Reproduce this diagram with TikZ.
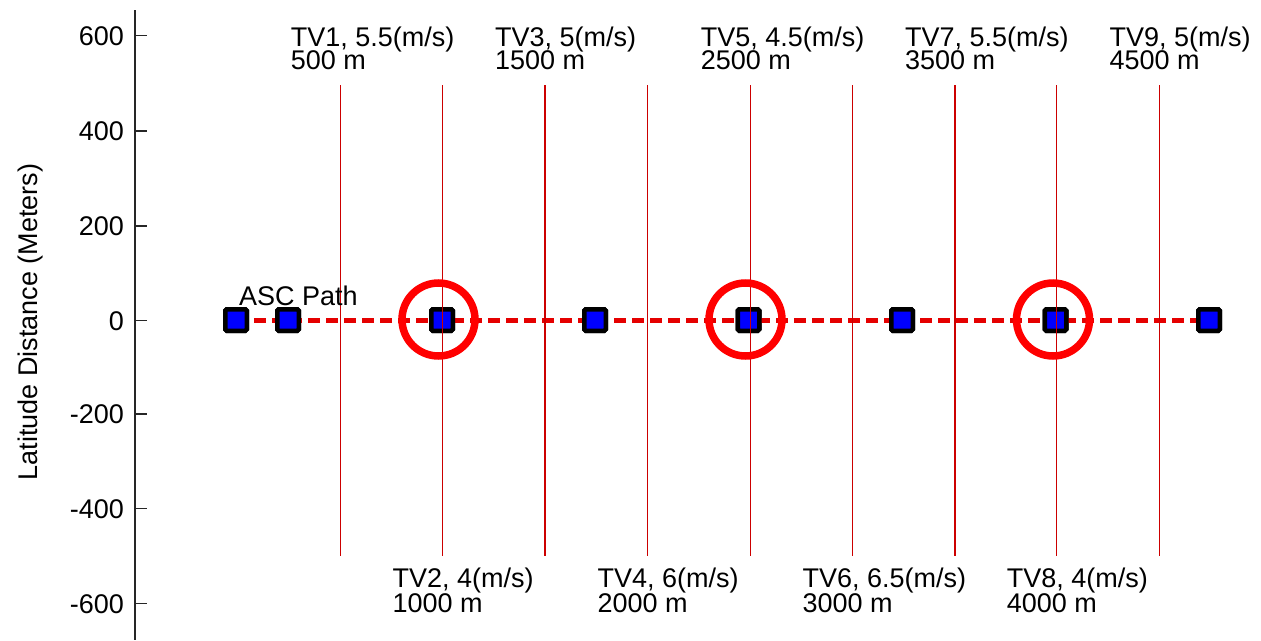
\documentclass[tikz,border=0pt]{standalone}
\usepackage{fontspec}
\setmainfont{Liberation Sans}
\begin{document}
\begin{tikzpicture}[x=1pt,y=-1pt,
  lbl/.style={anchor=base west,inner sep=0pt,font=\fontsize{27}{27}\selectfont},
  ticklbl/.style={anchor=base east,inner sep=0pt,font=\fontsize{27}{27}\selectfont},
  axisline/.style={draw=black!85,line width=1.5pt},
  tvline/.style={draw=red!80!black,line width=1.3pt},
  ascpath/.style={draw=red!90!black,line width=5pt,dash pattern=on 12pt off 6pt},
  sq/.style={draw=black,fill=blue,line width=4.5pt,minimum size=21.5pt,inner sep=0pt,rounded corners=1.5pt},
  ring/.style={circle,draw=red,line width=7.5pt,minimum size=73pt,inner sep=0pt}]
\useasboundingbox (0,0) rectangle (1261,640);
\fill[white] (0,0) rectangle (1261,640);
% axis
\coordinate (axtop) at (135,10);
\coordinate (axbot) at (135,640);
\draw[axisline] (axtop) -- (axbot);
\foreach \v/\y in {600/35.7,400/131,200/226,0/320.5,-200/414,-400/508.5,-600/603.7}{
  \coordinate (tk\v) at (135,\y);
  \draw[axisline] (tk\v) -- ++(12,0);
  \node[ticklbl] (tl\v) at (124,\y+9.5) {\v};
}
\node[rotate=90,anchor=base,inner sep=0pt,font=\fontsize{27}{27}\selectfont] (ylab) at (37,322) {Latitude Distance (Meters)};
% ASC path
\node[sq] (s0) at (236,320) {};
\node[sq] (s1) at (288,320) {};
\node[sq] (s2) at (442,320) {};
\node[sq] (s3) at (595,320) {};
\node[sq] (s4) at (748.5,320) {};
\node[sq] (s5) at (902,320) {};
\node[sq] (s6) at (1055.5,320) {};
\node[sq] (s7) at (1209,320) {};
\draw[ascpath] (s0.center) -- (s7.center);
\foreach \i in {0,...,7}{\node[sq] at (s\i) {};}
% vertical lines
\foreach \i/\x in {1/340.7,2/442.3,3/545,4/647.5,5/750.7,6/852.3,7/955,8/1056.7,9/1159.3}{
  \coordinate (vt\i) at (\x,85);
  \coordinate (vb\i) at (\x,556);
  \draw[tvline] (vt\i) -- (vb\i);
}
% rings
\node[ring] (c1) at (438.5,319.5) {};
\node[ring] (c2) at (745.5,319.5) {};
\node[ring] (c3) at (1053,319.5) {};
% labels
\node[lbl] (asc) at (239,305) {ASC Path};
\node[lbl] (tv1) at (290.7,46.7) {TV1, 5.5(m/s)};
\node[lbl] (tv1d) at (290.7,69.5) {500 m};
\node[lbl] (tv3) at (495,46.7) {TV3, 5(m/s)};
\node[lbl] (tv3d) at (495,69.5) {1500 m};
\node[lbl] (tv5) at (700.7,46.7) {TV5, 4.5(m/s)};
\node[lbl] (tv5d) at (700.7,69.5) {2500 m};
\node[lbl] (tv7) at (905,46.7) {TV7, 5.5(m/s)};
\node[lbl] (tv7d) at (905,69.5) {3500 m};
\node[lbl] (tv9) at (1109.3,46.7) {TV9, 5(m/s)};
\node[lbl] (tv9d) at (1109.3,69.5) {4500 m};
\node[lbl] (tv2) at (392.3,587.7) {TV2, 4(m/s)};
\node[lbl] (tv2d) at (392.3,612) {1000 m};
\node[lbl] (tv4) at (597.5,587.7) {TV4, 6(m/s)};
\node[lbl] (tv4d) at (597.5,612) {2000 m};
\node[lbl] (tv6) at (802.3,587.7) {TV6, 6.5(m/s)};
\node[lbl] (tv6d) at (802.3,612) {3000 m};
\node[lbl] (tv8) at (1006.7,587.7) {TV8, 4(m/s)};
\node[lbl] (tv8d) at (1006.7,612) {4000 m};
\end{tikzpicture}
\end{document}
